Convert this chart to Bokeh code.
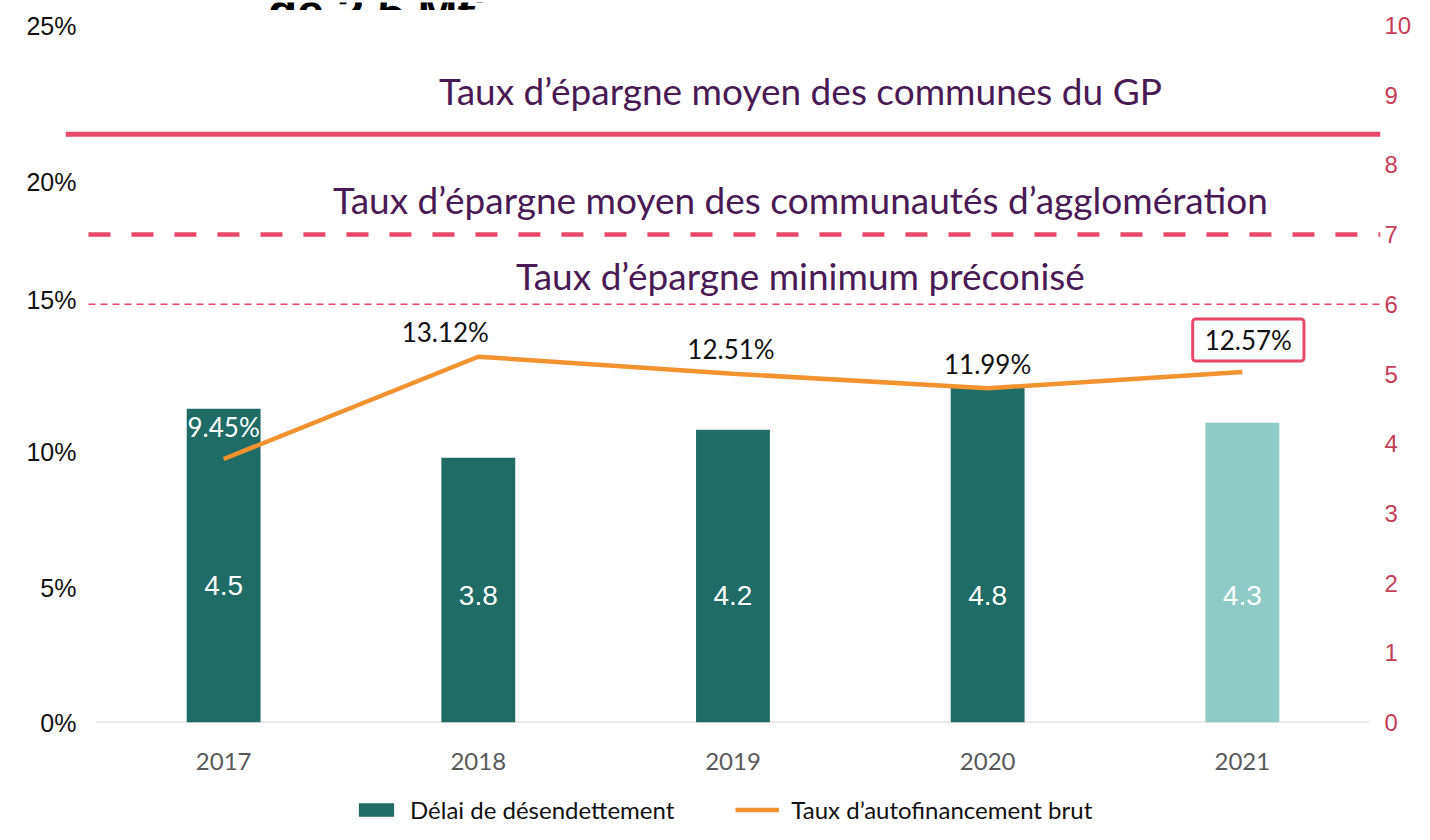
from bokeh.plotting import figure
from bokeh.layouts import column
from bokeh.models import (Range1d, LinearAxis, FixedTicker, ColumnDataSource,
                          Legend, LegendItem)
from bokeh.core.properties import value
from bokeh.embed import file_html
from bokeh.resources import INLINE

# ---------------- data ----------------
years = ["2017", "2018", "2019", "2020", "2021"]
delai_desendettement = [4.5, 3.8, 4.2, 4.8, 4.3]          # years (right axis)
taux_autofinancement = [9.45, 13.12, 12.51, 11.99, 12.57]  # % (left axis)
taux_reference = [21.1, 17.5, 15.0]                        # % (left axis)
reference_labels = [
    "Taux d\u2019épargne moyen des communes du GP",
    "Taux d\u2019épargne moyen des communautés d\u2019agglomération",
    "Taux d\u2019épargne minimum préconisé",
]
left_tick_labels = ["0%", "5%", "10%", "15%", "20%", "25%"]
right_ticks = [0, 1, 2, 3, 4, 5, 6, 7, 8, 9, 10]
title_text = "de 2,5 M\u20ac"
legend_labels = ["Délai de désendettement", "Taux d\u2019autofinancement brut"]

# ---------------- styles / positions ----------------
TEAL = "#1f6b66"
TEAL_LIGHT = "#8ecbc7"
ORANGE = "#f29330"
PINK = "#e8496a"
PINK_TXT = "#c63d57"
PURPLE = "#4a1a55"

W = 1414
H_TOP, H, H_LEG = 10, 772, 42
FRAME_L, FRAME_R, FRAME_T, FRAME_B = 65, 1383, 25, 722   # page pixels
X0_PX, DX_PX = 223.5, 255.25          # pixel of first category, category step
x_start = (FRAME_L - X0_PX) / DX_PX
x_end = (FRAME_R - X0_PX) / DX_PX

xs = list(range(len(years)))
bar_colors = [TEAL, TEAL, TEAL, TEAL, TEAL_LIGHT]
bar_label_y = [1.97, 1.82, 1.82, 1.82, 1.82]
line_label_xoff = [0, -33, -2, 0]
line_label_yoff = [-32, -25, -25, -24]
line_label_colors = ["white", "#111111", "#111111", "#111111"]
left_tick_pos = [0, 4.81, 9.72, 15.17, 19.40, 25]

# ---------- top strip: cut-off title (only its lower part shows, as in the reference)
pt = figure(width=W, height=H_TOP, output_backend="svg", toolbar_location=None,
            x_range=Range1d(FRAME_L, FRAME_R), y_range=Range1d(0, H_TOP),
            x_axis_type=None, y_axis_type=None, outline_line_color=None,
            min_border=0)
pt.grid.visible = False
pt.text(x=[268], y=[H_TOP - 8.5], text=[title_text], text_align="left",
        text_baseline="alphabetic", text_color="black",
        text_font=value("Liberation Sans"), text_font_style="bold",
        text_font_size="48px")

# ---------- main chart
p = figure(width=W, height=H, output_backend="svg", toolbar_location=None,
           x_range=Range1d(x_start, x_end), y_range=Range1d(0, 25),
           min_border_left=FRAME_L, min_border_right=W - FRAME_R,
           min_border_top=FRAME_T - H_TOP,
           min_border_bottom=H - (FRAME_B - H_TOP),
           outline_line_color=None)
p.extra_y_ranges = {"right": Range1d(0, 10)}
p.grid.visible = False
p.background_fill_color = "white"
p.border_fill_color = "white"

# left axis
ly = p.yaxis[0]
ly.ticker = FixedTicker(ticks=left_tick_pos)
ly.major_label_overrides = {t: l for t, l in zip(left_tick_pos, left_tick_labels)}
ly.axis_line_color = None
ly.major_tick_line_color = None
ly.minor_tick_line_color = None
ly.major_tick_out = 0
ly.major_tick_in = 0
ly.major_label_standoff = -11
ly.major_label_text_font = "Liberation Sans"
ly.major_label_text_font_size = "25px"
ly.major_label_text_color = "#111111"

# right axis
ry = LinearAxis(y_range_name="right", ticker=FixedTicker(ticks=right_ticks))
ry.axis_line_color = None
ry.major_tick_line_color = None
ry.minor_tick_line_color = None
ry.major_tick_out = 0
ry.major_tick_in = 0
ry.major_label_standoff = 4
ry.major_label_text_font = "Liberation Sans"
ry.major_label_text_font_size = "24px"
ry.major_label_text_color = PINK_TXT
p.add_layout(ry, "right")

# bottom axis
bx = p.xaxis[0]
bx.ticker = FixedTicker(ticks=xs)
bx.major_label_overrides = {i: y for i, y in zip(xs, years)}
bx.axis_line_color = None
bx.major_tick_line_color = None
bx.minor_tick_line_color = None
bx.major_tick_out = 0
bx.major_tick_in = 0
bx.major_label_standoff = 30
bx.major_label_text_font = "Lato"
bx.major_label_text_font_size = "24px"
bx.major_label_text_color = "#595959"

# baseline
p.segment(x0=[-0.5], y0=[0], x1=[4.5], y1=[0], line_color="#d6d6d6", line_width=2)

# bars
bsrc = ColumnDataSource(dict(x=xs, top=delai_desendettement, color=bar_colors,
                             label=[f"{v:.1f}" for v in delai_desendettement],
                             ly=bar_label_y))
bars = p.vbar(x="x", top="top", bottom=0, width=0.29, fill_color="color",
              line_color=None, source=bsrc, y_range_name="right")
p.text(x="x", y="ly", text="label", source=bsrc, y_range_name="right",
       text_align="center", text_baseline="middle", text_color="white",
       text_font=value("Liberation Sans"), text_font_size="28px")

# reference lines
p.segment(x0=[x_start], y0=[taux_reference[0]], x1=[x_end], y1=[taux_reference[0]],
          line_color=PINK, line_width=5)
dash_start = (88 - X0_PX) / DX_PX
p.segment(x0=[dash_start], y0=[taux_reference[1]], x1=[x_end], y1=[taux_reference[1]],
          line_color=PINK, line_width=4.5, line_dash="22 21")
p.segment(x0=[dash_start], y0=[taux_reference[2]], x1=[x_end], y1=[taux_reference[2]],
          line_color=PINK, line_width=1.5, line_dash="7 5")
p.text(x=[2.265] * 3, y=taux_reference, text=reference_labels,
       y_offset=[-44, -35, -29], text_align="center", text_baseline="middle",
       text_color=PURPLE, text_font=value("Lato"), text_font_size="37px")

# line
line = p.line(x=xs, y=taux_autofinancement, line_color=ORANGE, line_width=4.5)
lsrc = ColumnDataSource(dict(x=xs[:4], y=taux_autofinancement[:4],
                             t=[f"{v:.2f}%" for v in taux_autofinancement[:4]],
                             xo=line_label_xoff, yo=line_label_yoff,
                             c=line_label_colors))
p.text(x="x", y="y", text="t", x_offset="xo", y_offset="yo", text_color="c",
       source=lsrc, text_align="center", text_baseline="middle",
       text_font=value("Lato"), text_font_size="26px")
p.text(x=[xs[4]], y=[taux_autofinancement[4]], text=[f"{taux_autofinancement[4]:.2f}%"],
       x_offset=6, y_offset=-32, text_align="center", text_baseline="middle",
       text_color="#111111", text_font=value("Lato"), text_font_size="26px",
       background_fill_color="white", border_line_color=PINK, border_line_width=3,
       padding=[12, 12, 5, 5], border_radius=3)

# ---------- legend strip below the chart (its frame is aligned with the chart's frame)
pl = figure(width=W, height=H_LEG, output_backend="svg", toolbar_location=None,
            x_range=Range1d(0, 1), y_range=Range1d(0, 1),
            x_axis_type=None, y_axis_type=None, outline_line_color=None,
            min_border=0)
pl.grid.visible = False
leg_bar = pl.vbar(x=[5], top=[5], bottom=[4], width=0.1, fill_color=TEAL, line_color=None)
leg_line = pl.line(x=[5, 6], y=[5, 5], line_color=ORANGE, line_width=4.5)
legend = Legend(items=[LegendItem(label=legend_labels[0], renderers=[leg_bar]),
                       LegendItem(label=legend_labels[1], renderers=[leg_line])],
                orientation="horizontal", location=(355 - 66, 0),
                glyph_width=44, glyph_height=17, label_standoff=12, spacing=61,
                padding=0, margin=0, border_line_color=None,
                background_fill_alpha=0, label_text_font="Lato",
                label_text_font_size="24px", label_text_color="#111111")
pl.add_layout(legend, "center")

layout = column(pt, p, pl, spacing=0)
open("out.html", "w").write(file_html(layout, INLINE))
